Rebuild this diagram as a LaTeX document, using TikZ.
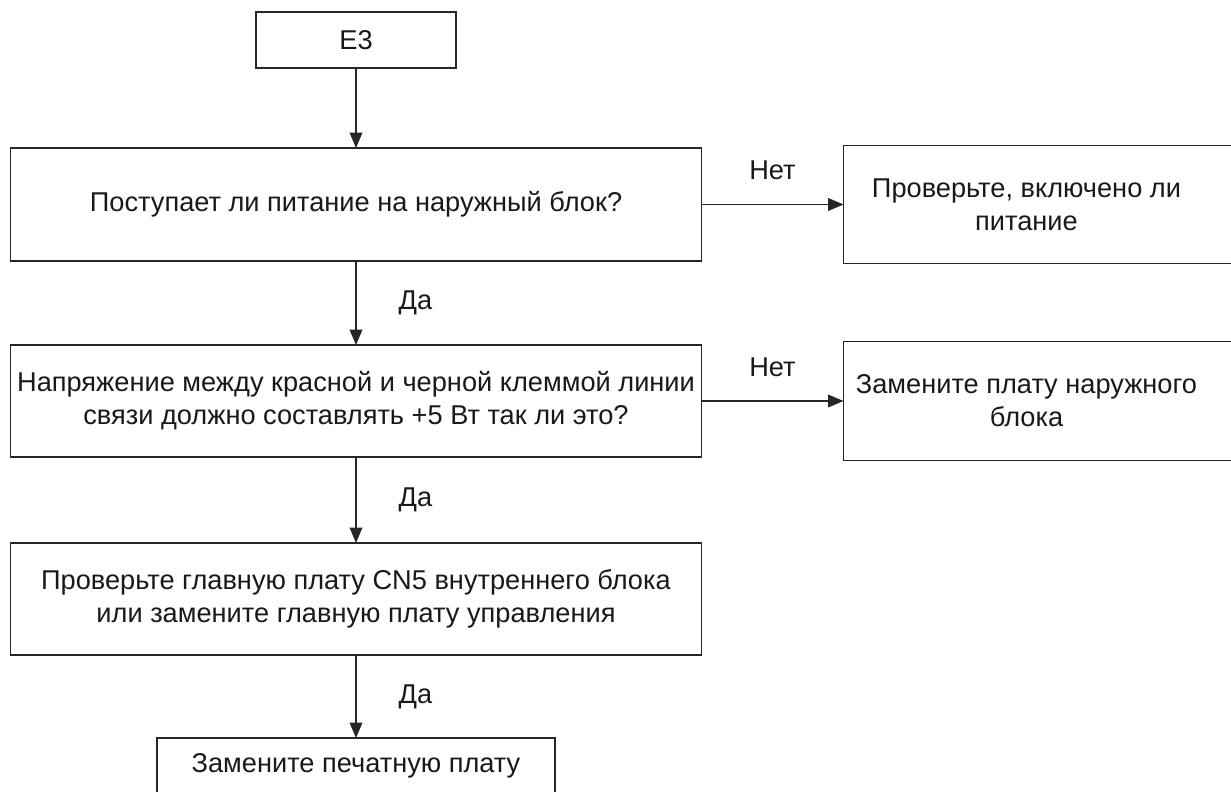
\documentclass[tikz,border=0pt]{standalone}
\usepackage{fontspec}
\setsansfont{Liberation Sans}
\usetikzlibrary{positioning}
\usetikzlibrary{arrows.meta}

\begin{document}
\begin{tikzpicture}[>={Triangle[length=11.5pt,width=9.5pt]},font=\sffamily\fontsize{20.4}{24.75}\selectfont,line width=1pt,draw=black!85,text=black!90,
	box/.style={draw=black!85,fill=white,outer sep=0pt,inner sep=0pt,align=center},
	rbox/.style={outer sep=0pt,inner sep=0pt,align=center,minimum width=274.5pt},
	lbl/.style={inner sep=0pt}]
	\useasboundingbox (0,0) rectangle (923.25pt,-594pt);
	\node [box,minimum width=150pt,minimum height=42pt] at (267pt,-30pt) (e3) {E3};
	\node [box,minimum width=518.25pt,minimum height=84.75pt,below=60pt of e3] (q_pwr) {Поступает ли питание на наружный блок?};
	\node [box,minimum width=518.25pt,minimum height=84pt,below=63pt of q_pwr] (q_volt) {Напряжение между красной и черной клеммой линии\\связи должно составлять +5 Вт так ли это?};
	\node [box,minimum width=518.25pt,minimum height=84pt,below=64.5pt of q_volt] (chk_cn) {Проверьте главную плату CN5 внутреннего блока\\или замените главную плату управления};
	\node [box,minimum width=298.5pt,minimum height=42pt,below=62.25pt of chk_cn] (rep_pcb) {Замените печатную плату};

	\node [rbox,minimum height=88.5pt,right=106.5pt of q_pwr] (chk_pwr) {Проверьте, включено ли\\питание};
	\node [rbox,minimum height=89.25pt,right=106.5pt of q_volt] (rep_out) {Замените плату наружного\\блока};
	% frames run past the right edge
	\draw (chk_pwr.north west) rectangle ([xshift=40pt]chk_pwr.south east);
	\draw (rep_out.north west) rectangle ([xshift=40pt]rep_out.south east);

	\draw [->] (e3.south) -- (q_pwr.north);
	\draw [->] (q_pwr.south) -- node[midway,right=31.5pt,lbl] {Да} (q_volt.north);
	\draw [->] (q_volt.south) -- node[midway,right=31.5pt,lbl] {Да} (chk_cn.north);
	\draw [->] (chk_cn.south) -- node[midway,right=31.5pt,lbl] {Да} (rep_pcb.north);
	\draw [->] (q_pwr.east) -- node[midway,above=18pt,lbl] {Нет} (chk_pwr.west);
	\draw [->] (q_volt.east) -- node[midway,above=18pt,lbl] {Нет} (rep_out.west);
\end{tikzpicture}
\end{document}
